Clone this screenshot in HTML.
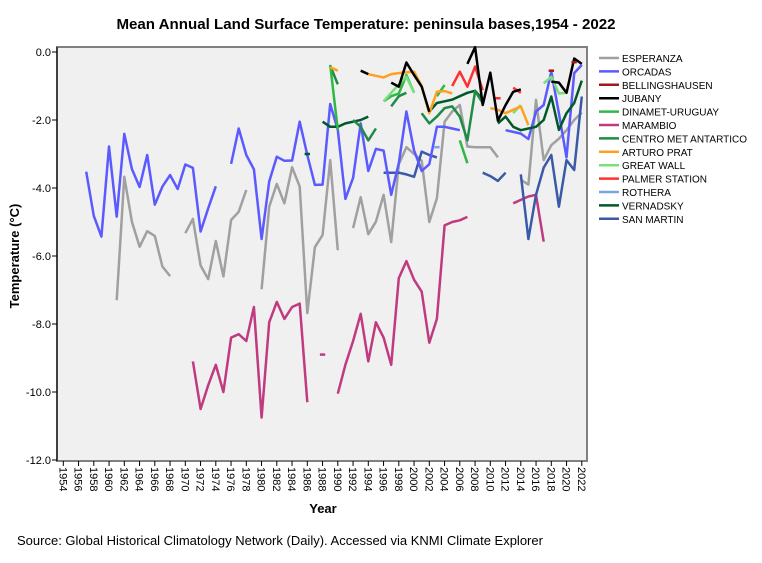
<!DOCTYPE html>
<html><head><meta charset="utf-8"><style>
body{margin:0;background:#fff;}
svg{display:block;font-family:"Liberation Sans",Arial,sans-serif;}
</style></head><body>
<svg id="chart" width="762" height="563" viewBox="0 0 762 563">
<text x="366" y="29" text-anchor="middle" font-size="15.1" font-weight="bold">Mean Annual Land Surface Temperature: peninsula bases,1954 - 2022</text>
<rect x="57" y="47" width="530" height="414" fill="#f0f0f0" stroke="#808080" stroke-width="2"/>
<g id="axes"></g>
<g id="series"></g>
<g id="legend"></g>
<text transform="translate(19,256) rotate(-90)" text-anchor="middle" font-size="13" font-weight="bold">Temperature (°C)</text>
<text x="323" y="513" text-anchor="middle" font-size="13" font-weight="bold">Year</text>
<text x="17" y="545" font-size="13">Source: Global Historical Climatology Network (Daily). Accessed via KNMI Climate Explorer</text>
</svg>
<script>
const yTicks=[0,-2,-4,-6,-8,-10,-12];
const yTickLabels=["0.0","-2.0","-4.0","-6.0","-8.0","-10.0","-12.0"];
const xTickYears=[1954,1956,1958,1960,1962,1964,1966,1968,1970,1972,1974,1976,1978,1980,1982,1984,1986,1988,1990,1992,1994,1996,1998,2000,2002,2004,2006,2008,2010,2012,2014,2016,2018,2020,2022];
const seriesNames=["ESPERANZA","ORCADAS","BELLINGSHAUSEN","JUBANY","DINAMET-URUGUAY","MARAMBIO","CENTRO MET ANTARTICO","ARTURO PRAT","GREAT WALL","PALMER STATION","ROTHERA","VERNADSKY","SAN MARTIN"];
const seriesColors=["#a0a0a0","#5a5aff","#a01818","#000000","#2eb844","#c03a80","#1e8c46","#ffa020","#78e078","#ff3030","#78a8e0","#005a28","#3a5aa8"];
const seriesStart=[1961,1957,2018,1993,1989,1971,1989,1989,1995,2005,2003,1986,1996];
const esperanza=[-7.3,-3.67,-4.99,-5.73,-5.27,-5.41,-6.31,-6.59,null,-5.33,-4.91,-6.28,-6.68,-5.56,-6.6,-4.94,-4.7,-4.06,null,-6.98,-4.55,-3.88,-4.45,-3.39,-3.96,-7.68,-5.74,-5.38,-3.18,-5.83,null,-5.18,-4.27,-5.36,-4.99,-4.2,-5.59,-3.3,-2.8,-3.0,-3.2,-5.0,-4.3,-2.05,-1.75,-1.56,-2.78,-2.8,-2.8,-2.8,-3.1,null,null,-3.76,-3.9,-1.41,-3.18,-2.74,-2.55,-2.3,-2.0,-1.78];
const orcadas=[-3.52,-4.82,-5.43,-2.78,-4.84,-2.41,-3.44,-3.97,-3.03,-4.49,-3.96,-3.62,-4.03,-3.31,-3.41,-5.28,-4.6,-3.95,null,-3.29,-2.25,-3.03,-3.45,-5.5,-3.81,-3.08,-3.2,-3.19,-2.05,-3.03,-3.91,-3.9,-1.53,-2.29,-4.32,-3.7,-2.1,-3.5,-2.85,-2.9,-4.2,-3.27,-1.75,-2.9,-3.5,-3.3,-2.2,-2.2,-2.25,-2.3,null,null,null,null,null,-2.3,-2.35,-2.4,-2.56,-1.75,-1.56,-0.58,-1.8,-3.1,-0.62,-0.38];
const bellingshausen=[-0.55,null,null,-0.3];
const jubany=[-0.55,-0.65,null,null,-0.9,-1.02,-0.31,-0.68,-1.02,-1.76,null,null,null,null,-0.35,0.14,-1.56,-0.61,-2.02,-1.56,-1.17,-1.1,null,null,null,-0.87,-0.9,-1.2,-0.19,-0.35];
const dinamet=[-0.38,-2.29,null,null,null,null,null,-1.45,-1.3,-1.22,-0.68,-1.2,null,null,-1.3,-0.97,null,-2.6,-3.27];
const marambio=[-9.1,-10.5,-9.8,-9.2,-10.0,-8.4,-8.3,-8.5,-7.5,-10.75,-7.95,-7.35,-7.85,-7.5,-7.4,-10.3,null,-8.9,null,-10.05,-9.2,-8.5,-7.7,-9.1,-7.95,-8.4,-9.2,-6.65,-6.15,-6.7,-7.05,-8.55,-7.85,-5.1,-5.0,-4.95,-4.85,null,null,null,null,null,-4.45,-4.35,-4.25,-4.2,-5.58];
const centroMet=[-0.4,-0.95,null,-2.0,-2.2,-2.6,-2.25,null,-1.6,-1.3,-1.2,null,-1.8,-2.1,-1.9,-1.65,-1.6,-1.9,-2.6,-1.15,-1.5];
const arturoPrat=[-0.45,-0.55,null,null,null,-0.65,-0.7,-0.75,-0.65,-0.62,-0.6,-0.58,-1.0,-1.8,-1.17,-1.15,-1.22,null,null,null,null,-1.65,-1.7,-1.8,-1.7,-1.6,-2.15];
const greatWall=[null,-1.45,-1.2,-0.95,-0.73,-1.2,null,null,null,null,null,null,null,null,null,null,null,null,-1.8,-1.56,null,null,-0.92,-0.73,-1.22,-1.2];
const palmer=[-1.0,-0.58,-1.02,-0.43,-1.12,null,-1.36,null,-1.05,-1.2];
const rothera=[-2.8];
const vernadsky=[-3.0,null,-2.05,-2.2,-2.2,-2.1,-2.05,-2.0,-1.9,null,null,null,null,null,null,null,-1.75,-1.5,-1.45,-1.4,-1.3,-1.2,-1.14,-1.4,null,-2.1,-1.9,-2.2,-2.3,-2.25,-2.2,-2.0,-1.31,-2.29,-1.8,-1.5,-0.84];
const sanMartin=[-3.55,-3.55,-3.55,-3.6,-3.67,-2.93,-3.03,-3.1,null,null,null,null,null,-3.55,-3.65,-3.79,-3.55,null,-3.6,-5.5,-4.2,-3.4,-3.03,-4.55,-3.18,-3.47,-1.31];
const seriesValues=[esperanza,orcadas,bellingshausen,jubany,dinamet,marambio,centroMet,arturoPrat,greatWall,palmer,rothera,vernadsky,sanMartin];
const drawOrder=[0,5,12,1,11,6,4,8,7,9,3,2,10];

const NS="http://www.w3.org/2000/svg";
function xScale(yr){return 63.3+(yr-1954)*7.625;}
function yScale(v){return 52-v*34;}
function mk(tag,attrs,parent){const e=document.createElementNS(NS,tag);for(const k in attrs)e.setAttribute(k,attrs[k]);parent.appendChild(e);return e;}

const axes=document.getElementById('axes');
yTicks.forEach((t,i)=>{
  const y=yScale(t);
  const tk=mk('line',{x1:52,x2:57,y1:y,y2:y,stroke:'#000','stroke-width':1},axes);
  
  
  const lb=mk('text',{x:51,y:y+4,'text-anchor':'end','font-size':11},axes);
  lb.textContent=yTickLabels[i];
  
  
});
xTickYears.forEach(yr=>{
  const x=xScale(yr);
  const tk=mk('line',{x1:x,x2:x,y1:461,y2:466,stroke:'#000','stroke-width':1},axes);
  
  
  const lb=mk('text',{transform:`translate(${x-4},467) rotate(90)`,'font-size':11},axes);
  lb.textContent=String(yr);
  
  
});
mk('line',{x1:57,x2:57,y1:47,y2:461,stroke:'#000','stroke-width':1},axes);

const sg=document.getElementById('series');
drawOrder.forEach(si=>{
  const vals=seriesValues[si],start=seriesStart[si];
  const g=mk('g',{},sg);
  
  
  let run=[];
  const flush=()=>{
    if(run.length===1){
      const p=run[0];
      const ln=mk('line',{x1:xScale(p[0]-0.35),x2:xScale(p[0]+0.35),y1:yScale(p[1]),y2:yScale(p[1]),stroke:seriesColors[si],'stroke-width':2.5},g);
      
      
    }else if(run.length>1){
      const pl=mk('polyline',{points:run.map(p=>xScale(p[0]).toFixed(1)+','+yScale(p[1]).toFixed(1)).join(' '),fill:'none',stroke:seriesColors[si],'stroke-width':2.5,'stroke-linejoin':'round'},g);
      
      
    }
    run=[];
  };
  vals.forEach((v,i)=>{if(v===null)flush();else run.push([start+i,v]);});
  flush();
});

const lg=document.getElementById('legend');
seriesNames.forEach((n,i)=>{
  const y=58+i*13.4;
  const g=mk('g',{},lg);
  
  
  mk('line',{x1:599,x2:619,y1:y,y2:y,stroke:seriesColors[i],'stroke-width':2.5},g);
  const t=mk('text',{x:622,y:y+4,'font-size':10},g);
  t.textContent=n;
});
</script>
</body></html>
